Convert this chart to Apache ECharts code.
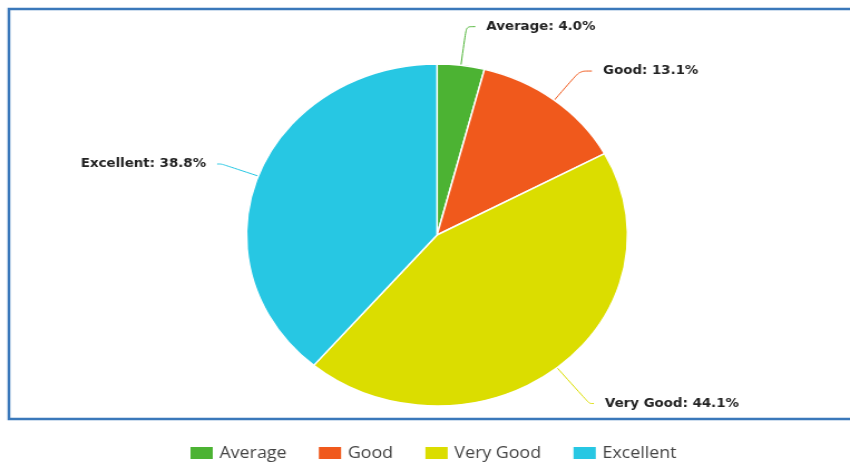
<!DOCTYPE html>
<html>
<head>
<meta charset="utf-8">
<script src="https://cdn.jsdelivr.net/npm/echarts@6/dist/echarts.min.js"></script>
<style>
html,body{margin:0;padding:0;background:#fff;overflow:hidden;}
#wrap{width:850px;height:464px;overflow:hidden;position:relative;}
#chart{width:763px;height:464px;transform:scaleX(1.114);transform-origin:0 0;}
</style>
</head>
<body>
<div id="wrap"><div id="chart"></div></div>
<script>
const categories = ['Average', 'Good', 'Very Good', 'Excellent'];
const values = [4.0, 13.1, 44.1, 38.8];
const colors = ['#4cb333', '#f0591c', '#dbdd00', '#27c7e3'];
const lineLen1 = [39, 37, 46, 35];
const lineLen2 = [8, 11, 4, 4];

const chart = echarts.init(document.getElementById('chart'), null, {renderer: 'canvas'});
const data = categories.map((c, i) => ({
  name: c,
  value: values[i],
  itemStyle: {color: colors[i]},
  labelLine: {length: lineLen1[i], length2: lineLen2[i]}
}));

chart.setOption({
  animation: false,
  graphic: [{
    type: 'rect',
    shape: {x: 8, y: 9, width: 800, height: 410},
    style: {fill: 'none', stroke: '#3a78ba', lineWidth: 2.5},
    silent: true,
    z: 0
  }],
  legend: {
    data: categories,
    top: 445,
    left: 169,
    padding: 0,
    itemWidth: 22,
    itemHeight: 14,
    itemGap: 27,
    icon: 'rect',
    textStyle: {fontFamily: 'Open Sans', fontSize: 16, color: '#444'}
  },
  series: [{
    type: 'pie',
    center: [392.3, 235],
    radius: [0, 171],
    startAngle: 90,
    clockwise: true,
    avoidLabelOverlap: false,
    itemStyle: {borderColor: '#fff', borderWidth: 1.5},
    label: {
      show: true,
      position: 'outside',
      formatter: p => p.name + ': ' + p.value.toFixed(1) + '%',
      fontFamily: 'DejaVu Sans',
      fontWeight: 'bold',
      fontSize: 12,
      color: '#222',
      distanceToLabelLine: 10
    },
    labelLine: {show: true, smooth: 0.3, lineStyle: {width: 1}},
    emphasis: {disabled: true},
    data: data
  }]
});
</script>
</body>
</html>
